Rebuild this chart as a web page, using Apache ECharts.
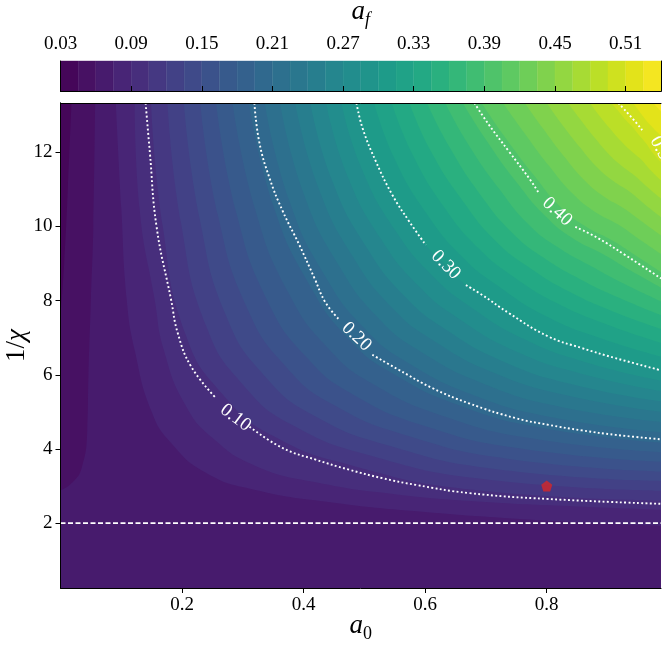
<!DOCTYPE html>
<html>
<head>
<meta charset="utf-8">
<script src="https://cdn.jsdelivr.net/npm/echarts@6/dist/echarts.min.js"></script>
<style>
html, body { margin: 0; padding: 0; background: #fff; }
#chart { width: 665px; height: 646px; }
</style>
</head>
<body>
<div id="chart"></div>
<script>
// filled contour levels (colorbar) and tick labels
const levels = [0.03, 0.045, 0.06, 0.075, 0.09, 0.105, 0.12, 0.135, 0.15, 0.165, 0.18, 0.195,
  0.21, 0.225, 0.24, 0.255, 0.27, 0.285, 0.30, 0.315, 0.33, 0.345, 0.36, 0.375, 0.39,
  0.405, 0.42, 0.435, 0.45, 0.465, 0.48, 0.495, 0.51, 0.525, 0.54];
const cbTicks = [0.03, 0.09, 0.15, 0.21, 0.27, 0.33, 0.39, 0.45, 0.51];
const xTicks = [0.2, 0.4, 0.6, 0.8];
const yTicks = [2, 4, 6, 8, 10, 12];

// contour lines: [a0, 1/chi]
const c045 = [[0, 7.6], [0.006, 9.0], [0.012, 11.0], [0.018, 13.33]];
const c060 = [[0, 2.88], [0.02, 3.1], [0.035, 3.5], [0.044, 4.5], [0.046, 6.0], [0.05, 8.02], [0.054, 10.0], [0.057, 13.33]];
const c075 = [[0.091, 13.33], [0.100, 10.5], [0.109, 8.02], [0.122, 6.67], [0.150, 5.0], [0.182, 4.16], [0.240, 3.35], [0.319, 2.90], [0.45, 2.55], [0.6, 2.3], [0.75, 2.12], [0.88, 2.0], [0.988, 1.92]];
const c090 = [[0.122, 13.33], [0.130, 10.5], [0.155, 8.02], [0.170, 6.67], [0.205, 5.2], [0.250, 4.3], [0.32, 3.55], [0.42, 3.1], [0.55, 2.78], [0.7, 2.57], [0.85, 2.45], [0.988, 2.36]];
const c105 = [[0.149, 13.33], [0.168, 10.03], [0.206, 7.08], [0.268, 5.45], [0.351, 4.34], [0.485, 3.53], [0.679, 2.90], [0.988, 2.61]];
const c120 = [[0.176, 13.33], [0.198, 10.12], [0.240, 7.30], [0.302, 5.70], [0.383, 4.63], [0.514, 3.80], [0.698, 3.18], [0.988, 2.87]];
const c135 = [[0.203, 13.33], [0.229, 10.21], [0.274, 7.53], [0.337, 5.95], [0.416, 4.91], [0.544, 4.07], [0.718, 3.45], [0.988, 3.13]];
const c150 = [[0.230, 13.33], [0.259, 10.30], [0.308, 7.76], [0.372, 6.20], [0.449, 5.19], [0.574, 4.34], [0.738, 3.73], [0.988, 3.39]];
const c165 = [[0.256, 13.33], [0.289, 10.39], [0.341, 7.98], [0.406, 6.45], [0.481, 5.47], [0.603, 4.60], [0.757, 4.01], [0.988, 3.65]];
const c180 = [[0.283, 13.33], [0.320, 10.48], [0.375, 8.21], [0.441, 6.70], [0.514, 5.75], [0.633, 4.87], [0.777, 4.28], [0.988, 3.91]];
const c195 = [[0.310, 13.33], [0.350, 10.57], [0.409, 8.44], [0.475, 6.95], [0.546, 6.04], [0.662, 5.14], [0.796, 4.56], [0.988, 4.17]];
const c210 = [[0.336, 13.33], [0.376, 10.72], [0.435, 8.67], [0.502, 7.22], [0.571, 6.33], [0.683, 5.43], [0.811, 4.85], [0.988, 4.45]];
const c225 = [[0.361, 13.33], [0.400, 10.89], [0.459, 8.92], [0.524, 7.51], [0.591, 6.64], [0.699, 5.74], [0.822, 5.14], [0.988, 4.73]];
const c240 = [[0.386, 13.33], [0.424, 11.06], [0.482, 9.16], [0.546, 7.80], [0.612, 6.94], [0.715, 6.04], [0.834, 5.44], [0.988, 5.00]];
const c255 = [[0.411, 13.33], [0.447, 11.23], [0.505, 9.40], [0.568, 8.09], [0.632, 7.24], [0.731, 6.34], [0.845, 5.73], [0.988, 5.28]];
const c270 = [[0.437, 13.33], [0.471, 11.41], [0.528, 9.64], [0.590, 8.38], [0.653, 7.54], [0.748, 6.64], [0.857, 6.03], [0.988, 5.56]];
const c285 = [[0.462, 13.33], [0.495, 11.58], [0.551, 9.89], [0.612, 8.67], [0.673, 7.85], [0.764, 6.95], [0.868, 6.32], [0.988, 5.84]];
const c315 = [[0.516, 13.33], [0.549, 11.85], [0.604, 10.31], [0.661, 9.18], [0.719, 8.41], [0.799, 7.58], [0.890, 6.98], [0.988, 6.49]];
const c330 = [[0.545, 13.33], [0.579, 11.95], [0.633, 10.48], [0.689, 9.39], [0.744, 8.66], [0.818, 7.92], [0.900, 7.35], [0.988, 6.86]];
const c345 = [[0.574, 13.33], [0.609, 12.04], [0.663, 10.66], [0.716, 9.61], [0.769, 8.92], [0.836, 8.25], [0.909, 7.71], [0.988, 7.24]];
const c360 = [[0.603, 13.33], [0.640, 12.14], [0.692, 10.83], [0.744, 9.82], [0.794, 9.17], [0.855, 8.58], [0.919, 8.08], [0.988, 7.61]];
const c375 = [[0.633, 13.33], [0.670, 12.24], [0.722, 11.01], [0.771, 10.04], [0.819, 9.43], [0.874, 8.92], [0.929, 8.44], [0.988, 7.98]];
const c390 = [[0.662, 13.33], [0.700, 12.34], [0.751, 11.18], [0.799, 10.26], [0.843, 9.68], [0.893, 9.25], [0.938, 8.81], [0.988, 8.35]];
const c405 = [[0.693, 13.33], [0.730, 12.44], [0.779, 11.38], [0.823, 10.52], [0.865, 9.99], [0.908, 9.62], [0.947, 9.21], [0.988, 8.77]];
const c420 = [[0.728, 13.33], [0.762, 12.55], [0.804, 11.63], [0.843, 10.88], [0.879, 10.40], [0.917, 10.06], [0.951, 9.67], [0.988, 9.26]];
const c435 = [[0.764, 13.33], [0.793, 12.66], [0.829, 11.88], [0.862, 11.25], [0.894, 10.81], [0.926, 10.50], [0.956, 10.14], [0.988, 9.76]];
const c450 = [[0.800, 13.33], [0.824, 12.78], [0.855, 12.13], [0.882, 11.61], [0.909, 11.23], [0.936, 10.94], [0.961, 10.60], [0.988, 10.25]];
const c465 = [[0.835, 13.33], [0.855, 12.89], [0.880, 12.37], [0.901, 11.97], [0.923, 11.64], [0.945, 11.37], [0.965, 11.07], [0.988, 10.75]];
const c480 = [[0.871, 13.33], [0.886, 13.00], [0.905, 12.62], [0.920, 12.34], [0.938, 12.05], [0.955, 11.81], [0.970, 11.53], [0.988, 11.24]];
const c495 = [[0.906, 13.33], [0.918, 13.11], [0.930, 12.87], [0.940, 12.70], [0.952, 12.46], [0.963, 12.25], [0.974, 11.99], [0.988, 11.74]];
const c510 = [[0.942, 13.33], [0.955, 13.05], [0.968, 12.78], [0.988, 12.45]];
const c525 = [[0.975, 13.33], [0.988, 13.1]];

// dotted labelled contours (split where the label sits)
const d010a = [[0.140, 13.33], [0.147, 12.0], [0.158, 10.0], [0.182, 8.02], [0.193, 7.12], [0.215, 6.22], [0.256, 5.37]];
const d010b = [[0.311, 4.60], [0.366, 4.02], [0.420, 3.71], [0.475, 3.44], [0.530, 3.21], [0.585, 3.03], [0.672, 2.81], [0.803, 2.65], [0.988, 2.52]];
const d020a = [[0.319, 13.33], [0.327, 12.28], [0.344, 11.30], [0.366, 10.40], [0.393, 9.50], [0.418, 8.60], [0.436, 7.95], [0.459, 7.48]];
const d020b = [[0.513, 6.54], [0.557, 6.13], [0.612, 5.64], [0.672, 5.23], [0.749, 4.83], [0.803, 4.65], [0.858, 4.50], [0.913, 4.38], [0.988, 4.26]];
const d030a = [[0.487, 13.33], [0.497, 12.65], [0.519, 11.75], [0.546, 10.85], [0.574, 10.13], [0.601, 9.50]];
const d030b = [[0.667, 8.42], [0.694, 8.15], [0.738, 7.66], [0.803, 7.03], [0.858, 6.72], [0.913, 6.45], [0.988, 6.12]];
const d040a = [[0.681, 13.33], [0.705, 12.74], [0.738, 12.02], [0.771, 11.30], [0.787, 10.90]];
const d040b = [[0.847, 9.99], [0.885, 9.68], [0.929, 9.23], [0.988, 8.60]];
const d050a = [[0.918, 13.33], [0.946, 12.82], [0.957, 12.60]];

const labelText = ['0.10', '0.20', '0.30', '0.40', '0.50'];
const labelPos = [[0.288, 4.84], [0.487, 7.03], [0.634, 8.96], [0.817, 10.40], [0.990, 12.0]];
const labelAngle = [-37, -44, -45, -43, -62];

const marker = [[0.8, 3.0]];
const chiLine = [[0, 2], [0.988, 2]];

// 0.30 is also a fill level
const c300 = [...d030a, labelPos[2], ...d030b];

// viridis stops every 0.05
const viridisStops = ['#440154', '#471365', '#482475', '#463480', '#414487', '#3b528b', '#355f8d',
  '#2f6c8e', '#2a788e', '#25848e', '#21918c', '#1e9c89', '#22a884', '#2fb47c', '#44bf70',
  '#5ec962', '#7ad151', '#9bd93c', '#bddf26', '#dfe318', '#fde725'];
function hex2rgb(h) { return [1, 3, 5].map(i => parseInt(h.substr(i, 2), 16)); }
function viridis(t) {
  const f = Math.min(Math.max(t, 0), 1) * 20, i = Math.min(Math.floor(f), 19), r = f - i;
  const a = hex2rgb(viridisStops[i]), b = hex2rgb(viridisStops[i + 1]);
  return 'rgb(' + a.map((v, j) => Math.round(v + (b[j] - v) * r)).join(',') + ')';
}
const nBands = levels.length - 1;
const bandColor = i => viridis((i + 0.5) / nBands);

const FONT = 'Liberation Serif';
const X_MAX = 0.988, Y_MIN = 0.25, Y_MAX = 13.33;

// [curve, band colour index]; low curves fill the lower side (top-left)
const fills = [
  [c060, 1], [c045, 0],
  [c075, 3], [c090, 4], [c105, 5], [c120, 6], [c135, 7], [c150, 8], [c165, 9], [c180, 10],
  [c195, 11], [c210, 12], [c225, 13], [c240, 14], [c255, 15], [c270, 16], [c285, 17], [c300, 18],
  [c315, 19], [c330, 20], [c345, 21], [c360, 22], [c375, 23], [c390, 24], [c405, 25], [c420, 26],
  [c435, 27], [c450, 28], [c465, 29], [c480, 30], [c495, 31], [c510, 32], [c525, 33]
];

const series = fills.map(([d, b]) => ({
  type: 'line', data: d, xAxisIndex: 0, yAxisIndex: 0,
  smooth: 0.5, symbol: 'none', silent: true,
  lineStyle: { width: 0, opacity: 0 },
  areaStyle: { origin: 'end', color: bandColor(b), opacity: 1 },
  z: 1
}));

[d010a, d010b, d020a, d020b, d030a, d030b, d040a, d040b, d050a].forEach(d => {
  series.push({
    type: 'line', data: d, xAxisIndex: 0, yAxisIndex: 0,
    smooth: 0.45, symbol: 'none', silent: true,
    lineStyle: { color: '#fff', width: 1.9, type: [1.9, 2.4] }, z: 4
  });
});

series.push({
  type: 'line', data: chiLine, xAxisIndex: 0, yAxisIndex: 0, symbol: 'none', silent: true,
  lineStyle: { color: '#fff', width: 1.7, type: [5, 2.5] }, z: 4
});

series.push({
  type: 'custom', xAxisIndex: 0, yAxisIndex: 0, clip: true, z: 5, silent: true,
  data: labelPos.map((p, i) => [p[0], p[1], labelAngle[i]]),
  renderItem: (params, api) => {
    const p = api.coord([api.value(0), api.value(1)]);
    return {
      type: 'text', x: p[0], y: p[1], rotation: api.value(2) * Math.PI / 180,
      style: {
        text: labelText[params.dataIndex], fill: '#fff',
        font: '19px "Liberation Serif"',
        align: 'center', verticalAlign: 'middle'
      }
    };
  }
});

series.push({
  type: 'scatter', data: marker, xAxisIndex: 0, yAxisIndex: 0, z: 6, silent: true,
  symbol: 'path://M0,-10L9.51,-3.09L5.88,8.09L-5.88,8.09L-9.51,-3.09Z', symbolSize: 11,
  itemStyle: { color: '#d62728' }
});

// colorbar
series.push({
  type: 'custom', xAxisIndex: 2, yAxisIndex: 2, silent: true,
  data: levels.slice(0, -1).map((v, i) => [v, levels[i + 1]]),
  renderItem: (params, api) => {
    const p0 = api.coord([api.value(0), 1]);
    const p1 = api.coord([api.value(1), 0]);
    const c = bandColor(params.dataIndex);
    return {
      type: 'rect',
      shape: { x: p0[0], y: p0[1], width: p1[0] - p0[0], height: p1[1] - p0[1] },
      style: { fill: c, stroke: c, lineWidth: 0.4 }
    };
  }
});

const frame = { show: true, lineStyle: { color: '#000', width: 1 } };
const tickStyle = { show: true, length: 5, inside: false, lineStyle: { color: '#000', width: 1 } };
const labStyle = { color: '#000', fontSize: 19, fontFamily: FONT };
const rich = {
  i: { fontSize: 27, fontStyle: 'italic', fontFamily: FONT, color: '#000', verticalAlign: 'bottom', padding: [0, 0, 4, 0] },
  s: { fontSize: 18, fontFamily: FONT, color: '#000', verticalAlign: 'bottom' },
  si: { fontSize: 18, fontStyle: 'italic', fontFamily: FONT, color: '#000', verticalAlign: 'bottom' },
  n: { fontSize: 27, fontFamily: FONT, color: '#000' },
  c: { fontSize: 27, fontStyle: 'italic', fontFamily: FONT, color: '#000' }
};
const plain = { show: false };

const option = {
  animation: false,
  backgroundColor: '#fff',
  grid: [
    { left: 60.5, right: 4, top: 103, bottom: 58, show: true, backgroundColor: bandColor(2), borderWidth: 0, containLabel: false, outerBoundsMode: 'none' },
    { left: 60.5, right: 4, top: 61, height: 30, containLabel: false, outerBoundsMode: 'none' }
  ],
  xAxis: [
    {
      type: 'value', gridIndex: 0, min: 0, max: X_MAX, position: 'bottom', z: 10,
      axisLine: frame, axisTick: Object.assign({ customValues: xTicks }, tickStyle),
      axisLabel: Object.assign({ customValues: xTicks, margin: 8 }, labStyle),
      splitLine: plain,
      name: '{i|a}{s|0}', nameLocation: 'middle', nameGap: 24, nameMoveOverlap: false,
      nameTextStyle: { rich: rich }
    },
    {
      type: 'value', gridIndex: 0, min: 0, max: X_MAX, position: 'top', z: 10,
      axisLine: frame, axisTick: plain, axisLabel: plain, splitLine: plain
    },
    {
      type: 'value', gridIndex: 1, min: 0.03, max: 0.54, position: 'top', z: 10,
      axisLine: frame, axisTick: Object.assign({ customValues: cbTicks }, tickStyle),
      axisLabel: Object.assign({ customValues: cbTicks, margin: 7, formatter: v => v.toFixed(2) }, labStyle),
      splitLine: plain,
      name: '{i|a}{si|f}', nameLocation: 'middle', nameGap: 32, nameMoveOverlap: false,
      nameTextStyle: { rich: rich }
    },
    {
      type: 'value', gridIndex: 1, min: 0.03, max: 0.54, position: 'bottom', z: 10,
      axisLine: frame, axisTick: plain, axisLabel: plain, splitLine: plain
    }
  ],
  yAxis: [
    {
      type: 'value', gridIndex: 0, min: Y_MIN, max: Y_MAX, position: 'left', z: 10,
      axisLine: frame, axisTick: Object.assign({ customValues: yTicks }, tickStyle),
      axisLabel: Object.assign({ customValues: yTicks, margin: 8 }, labStyle),
      splitLine: plain,
      name: '{n|1/}{c|χ}', nameLocation: 'middle', nameGap: 30, nameRotate: 90, nameMoveOverlap: false,
      nameTextStyle: { rich: rich }
    },
    {
      type: 'value', gridIndex: 0, min: Y_MIN, max: Y_MAX, position: 'right', z: 10,
      axisLine: frame, axisTick: plain, axisLabel: plain, splitLine: plain
    },
    {
      type: 'value', gridIndex: 1, min: 0, max: 1, position: 'left', z: 10,
      axisLine: frame, axisTick: plain, axisLabel: plain, splitLine: plain
    },
    {
      type: 'value', gridIndex: 1, min: 0, max: 1, position: 'right', z: 10,
      axisLine: frame, axisTick: plain, axisLabel: plain, splitLine: plain
    }
  ],
  series: series
};

const myChart = echarts.init(document.getElementById('chart'), null, { renderer: 'canvas' });
myChart.setOption(option);
</script>
</body>
</html>
